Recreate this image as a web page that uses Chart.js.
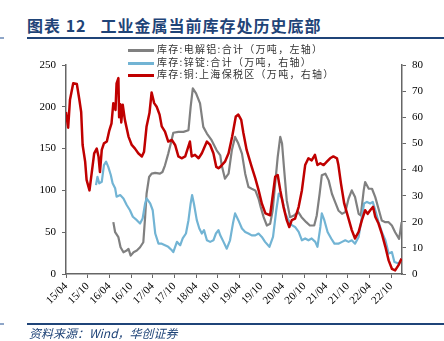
<!DOCTYPE html>
<html>
<head>
<meta charset="utf-8">
<script src="https://cdn.jsdelivr.net/npm/chart.js@4/dist/chart.umd.min.js"></script>
<style>
body { margin: 0; width: 444px; height: 341px; background: #fff; position: relative; overflow: hidden; font-family: "Noto Sans CJK SC", sans-serif; }
#title { position: absolute; left: 27px; top: 13px; font-size: 16px; font-weight: bold; color: #1f4478; letter-spacing: 1px; white-space: nowrap; }
.rule { position: absolute; height: 2px; background: #1f4478; }
#source { position: absolute; left: 29px; top: 324px; font-size: 12px; font-style: italic; color: #1f4478; white-space: nowrap; }
.leg { position: absolute; left: 128px; font-size: 10px; color: #333; white-space: nowrap; line-height: 12px; letter-spacing: 1.3px; }
.leg span { display: inline-block; width: 26px; height: 3px; vertical-align: middle; margin-right: 3px; }
#wrap { position: absolute; left: 0; top: 40px; width: 444px; height: 285px; }
</style>
</head>
<body>
<div id="title">图表 12 &nbsp; 工业金属当前库存处历史底部</div>
<div class="rule" style="left:0;top:37px;width:4px;background:#8fa6c8"></div>
<div class="rule" style="left:27px;top:37px;width:417px"></div>
<div id="wrap"><canvas id="chart"></canvas></div>
<div class="leg" style="top:43px"><span style="background:#808080"></span>库存:电解铝:合计（万吨，左轴）</div>
<div class="leg" style="top:56px"><span style="background:#72b4d4"></span>库存:锌锭:合计（万吨，右轴）</div>
<div class="leg" style="top:68px"><span style="background:#c00000"></span>库存:铜:上海保税区（万吨，右轴）</div>
<div class="rule" style="left:0;top:323px;width:4px;background:#8fa6c8"></div>
<div class="rule" style="left:27px;top:323px;width:417px"></div>
<div id="source">资料来源：Wind，华创证券</div>

<script>
// x positions are months counted from 2015-04
var tickLabels = ['15/04','15/10','16/04','16/10','17/04','17/10','18/04','18/10','19/04','19/10','20/04','20/10','21/04','21/10','22/04','22/10'];

// aluminium inventory (left axis)
var alMonths = [13.1,13.6,14.5,15.1,15.9,16.8,17.3,17.9,18.7,19.6,20.5,21.4,21.9,22.3,23,23.7,24.7,26,26.7,27.4,28.3,29,29.7,31.1,32.5,33.9,34.5,35.1,36,37.1,38,39,40.3,41.7,42.7,43.1,44,45,45.9,46.8,47.7,48.7,49.6,50.5,51.4,52.4,53.3,53.9,54.7,55.6,56.5,57.2,57.9,58.6,59.3,59.8,60.4,61.1,62,63.1,64.3,65.2,66.5,67.5,68.7,69.4,70.2,70.8,71.8,72.7,73.6,74.5,75.4,76.4,77.3,78.2,79.1,80,81,81.6,82.4,82.8,83.8,84.7,85.6,86.5,87.4,88.4,89.3,90.2,91.1,92.2,92.9];
var alValues = [62,50,44,32,26,28,30,22,26,28,32,38,68,96,116,120,121,120,122,130,144,156,169,170,170,172,200,222,216,204,176,168,160,148,142,130,114,120,148,164,156,144,120,104,102,100,90,80,68,58,60,76,108,140,164,156,124,88,68,70,74,68,62,58,58,70,96,118,120,112,96,86,76,72,74,90,100,92,72,70,100,110,102,102,92,78,64,62,62,58,50,42,62];

// zinc inventory (right axis)
var znMonths = [8.3,8.7,9.2,9.9,10.5,11.1,11.7,12.4,12.9,13.6,14,15,15.9,16.8,17.7,18.5,19.6,20.5,21.2,21.9,22.3,23.3,24,24.7,25.6,26.5,27.4,28.3,29.3,29.7,30.7,31.6,32.3,33.2,33.9,34.5,34.9,35.4,36.2,36.9,37.6,38.2,39,39.9,40.8,41.5,42.2,42.7,43.6,44.5,45.4,46.2,46.8,47.7,48.7,49.6,50.5,51.4,52.4,53.3,54.2,55.1,56.3,57.3,58.2,58.9,59.8,60.7,61.6,62.5,63.4,64.4,65.3,66.2,67.1,68,69,69.6,70.4,70.8,71.5,72.4,73.4,74.3,75.4,76.4,77.3,78.2,79.1,80,81,81.9,82.5,83.3,84.2,84.9,85.6,86.5,87.4,88.4,89.3,90.2,90.9,92.1,92.9];
var znValues = [34,37.2,34.7,35.3,41.7,43,41,37.9,34.7,32.8,29.6,30.2,28.9,26.4,24.4,21.9,20.6,19.3,21.2,27,28.9,27,24.4,15.5,11.6,11.6,11,10.4,9.1,8.4,12.3,11,13.6,15.5,20.6,27,30.2,27,20.6,17.4,15.5,16.8,12.9,12.3,12.9,15.5,16.8,14.8,12.3,9.7,12.9,19.3,23.2,20.6,17.4,16.1,15.5,14.8,14.8,15.5,14.2,12.3,10.4,14.2,24.4,30.8,28.9,23.2,20.6,18.7,18,16.1,12.9,13.6,12.9,13.6,12.3,10.4,18,23.2,20.6,16.1,13.6,11.6,11.6,12.3,12.9,12.3,12.9,11.6,14.2,21.9,27,27.6,27,27.6,24.4,20,16.1,12.9,7.8,8.4,4.6,4,5.9];

// copper, Shanghai bonded zone (right axis)
var cuMonths = [0,0.6,1.1,2,3,3.7,4.2,4.6,5.3,5.7,6.5,7.1,7.8,8.5,9,9.4,9.9,10.5,11.3,12,12.6,13.1,13.7,14,14.5,14.7,15,15.3,15.7,16.3,17.3,18.2,19.1,20,21,21.6,22.3,23.1,23.7,24.4,25.1,25.9,26.5,27.4,28.3,29.3,30.2,31.1,32,33,34.3,34.8,35.7,36.7,37.6,39,39.9,40.8,41.6,42.2,42.7,44,45,46,47,47.7,48.5,49.1,50,51.4,52.4,53.3,54.2,55.2,56.5,57.3,57.9,58.6,59.3,60.2,61.1,61.8,62.5,63.4,64.4,65.3,66.2,67.1,68,68.9,69.6,70.4,71.3,72.2,73.1,74,75,75.4,76.1,77,78.2,79.1,80,81,81.9,82.8,83.5,84.2,85,85.6,86.5,87.4,88.4,89.3,90.2,91.1,92,92.9];
var cuValues = [62,56,66.7,73,72.7,66.7,62,49.4,43,36,32,38.5,46.2,48,45,39,47.5,50,50.7,55,57.7,65.4,62.8,73,75,60,65,58,64.8,59,52.6,49.4,48,46.2,45,46.8,56.5,61.6,69.5,65.4,64,61,56.5,54.5,50.7,51.3,49.4,45,44.3,45,50.7,45,45.6,44.3,46.2,50.7,49.4,46.2,41,40.5,41,43,46.2,52.6,60.3,61,59,54,47.5,41,36.6,32.1,27,23.2,22.5,30.8,37.2,37.9,32.1,25.7,20.6,18,20.6,21.2,25.7,32.1,41.7,44.3,43.5,45.6,41.7,42.4,41.7,43,44.3,45,44.3,41.7,34.7,27,21.2,16.8,13.6,16.1,20.6,24.4,23,24.4,25.7,21.9,19.3,15.5,10.4,5.2,2,1.4,3.3,5.9];

var toPoints = function(xs, ys) {
  var pts = [];
  for (var i = 0; i < xs.length; i++) {
    pts.push({x: xs[i], y: ys[i]});
  }
  return pts;
};

var axisColor = '#666';
var tickFont = {family: '"Liberation Serif", serif', size: 11};

var sideAxis = function(pos, max, step, width) {
  return {
    position: pos,
    min: 0,
    max: max,
    ticks: {stepSize: step, font: tickFont, color: '#000', padding: 6},
    grid: {drawOnChartArea: false, drawTicks: true, tickLength: 4, color: axisColor},
    border: {color: axisColor, width: 1.5},
    afterFit: function(s) { s.width = width; }
  };
};

var ctx = document.getElementById('chart').getContext('2d');
var myChart = new Chart(ctx, {
  type: 'line',
  data: {
    datasets: [{
      label: '库存:电解铝:合计（万吨，左轴）',
      data: toPoints(alMonths, alValues),
      yAxisID: 'y',
      borderColor: '#808080',
      borderWidth: 2.2,
      order: 2
    }, {
      label: '库存:锌锭:合计（万吨，右轴）',
      data: toPoints(znMonths, znValues),
      yAxisID: 'y1',
      borderColor: '#72b4d4',
      borderWidth: 2.2,
      order: 1
    }, {
      label: '库存:铜:上海保税区（万吨，右轴）',
      data: toPoints(cuMonths, cuValues),
      yAxisID: 'y1',
      borderColor: '#c00000',
      borderWidth: 2.5,
      order: 0
    }]
  },
  options: {
    responsive: true,
    maintainAspectRatio: false,
    animation: false,
    layout: {padding: {top: 25, left: 0, right: 0, bottom: 0}},
    elements: {point: {radius: 0}, line: {tension: 0, borderJoinStyle: 'round'}},
    plugins: {legend: {display: false}, tooltip: {enabled: false}},
    scales: {
      x: {
        type: 'linear',
        min: 0,
        max: 93,
        afterBuildTicks: function(s) {
          s.ticks = tickLabels.map(function(l, i) { return {value: i * 6}; });
        },
        ticks: {
          autoSkip: false,
          minRotation: 45,
          maxRotation: 45,
          font: tickFont,
          color: '#000',
          padding: 2,
          callback: function(v) { return tickLabels[Math.round(v / 6)]; }
        },
        grid: {drawOnChartArea: false, drawTicks: true, tickLength: 4, color: axisColor},
        border: {color: axisColor, width: 1.5},
        afterFit: function(s) { s.height = 51; }
      },
      y: sideAxis('left', 250, 50, 66),
      y1: sideAxis('right', 80, 10, 42)
    }
  }
});
</script>
</body>
</html>
